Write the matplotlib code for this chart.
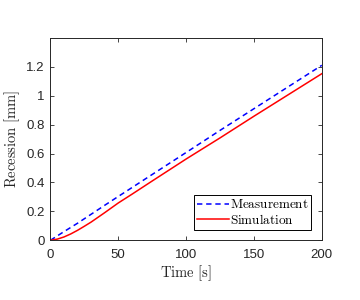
import matplotlib
matplotlib.use("Agg")
import matplotlib.pyplot as plt

# Data
t_meas = [0, 10, 20, 30, 40, 50, 75, 100, 125, 150, 175, 200]
rec_meas = [0.0, 0.06, 0.118, 0.18, 0.242, 0.303, 0.455, 0.607, 0.76, 0.91, 1.06, 1.21]

t_sim = [0, 5, 10, 15, 20, 25, 30, 40, 50, 60, 75, 100, 125, 150, 175, 200]
rec_sim = [0.0, 0.008, 0.023, 0.044, 0.069, 0.097, 0.126, 0.191, 0.258, 0.318, 0.41, 0.562, 0.708, 0.858, 1.005, 1.152]

xticks = [0, 50, 100, 150, 200]
yticks = [0, 0.2, 0.4, 0.6, 0.8, 1.0, 1.2]
yticklabels = ["0", "0.2", "0.4", "0.6", "0.8", "1", "1.2"]

plt.rcParams['mathtext.fontset'] = 'cm'
plt.rcParams['font.family'] = ['Liberation Sans', 'DejaVu Sans']

axc = (0.15, 0.15, 0.15)
fig = plt.figure(figsize=(3.6, 3.0), dpi=100)
ax = fig.add_axes([0.140, 0.199, 0.754, 0.675])

ax.plot(t_meas, rec_meas, color='blue', linestyle=(0, (3.5, 2.5)), linewidth=1.1,
        label=r'$\mathrm{Measurement}$')
ax.plot(t_sim, rec_sim, color='red', linestyle='-', linewidth=1.1,
        label=r'$\mathrm{Simulation}$')

ax.set_xlim(0, 200)
ax.set_ylim(0, 1.4)
ax.set_xticks(xticks)
ax.set_xticklabels([str(v) for v in xticks])
ax.set_yticks(yticks)
ax.set_yticklabels(yticklabels)

ax.tick_params(direction='in', top=True, right=True, length=3, width=0.6,
               colors=axc, labelsize=9.5)
ax.tick_params(axis='x', pad=6)
ax.tick_params(axis='y', pad=4)
for sp in ax.spines.values():
    sp.set_color(axc)
    sp.set_linewidth(0.7)

ax.set_xlabel(r'$\mathrm{Time\ [s]}$', fontsize=10.5, color=axc, labelpad=2)
ax.set_ylabel(r'$\mathrm{Recession\ [mm]}$', fontsize=10.5, color=axc, labelpad=3)

leg = ax.legend(loc='lower right', fontsize=9.5, frameon=True, fancybox=False,
                edgecolor='black', framealpha=1, handlelength=2.4,
                handletextpad=0.1, borderpad=0.2, labelspacing=0.15,
                borderaxespad=0.8)
leg.get_frame().set_linewidth(0.7)

fig.savefig("out.png", dpi=100)
